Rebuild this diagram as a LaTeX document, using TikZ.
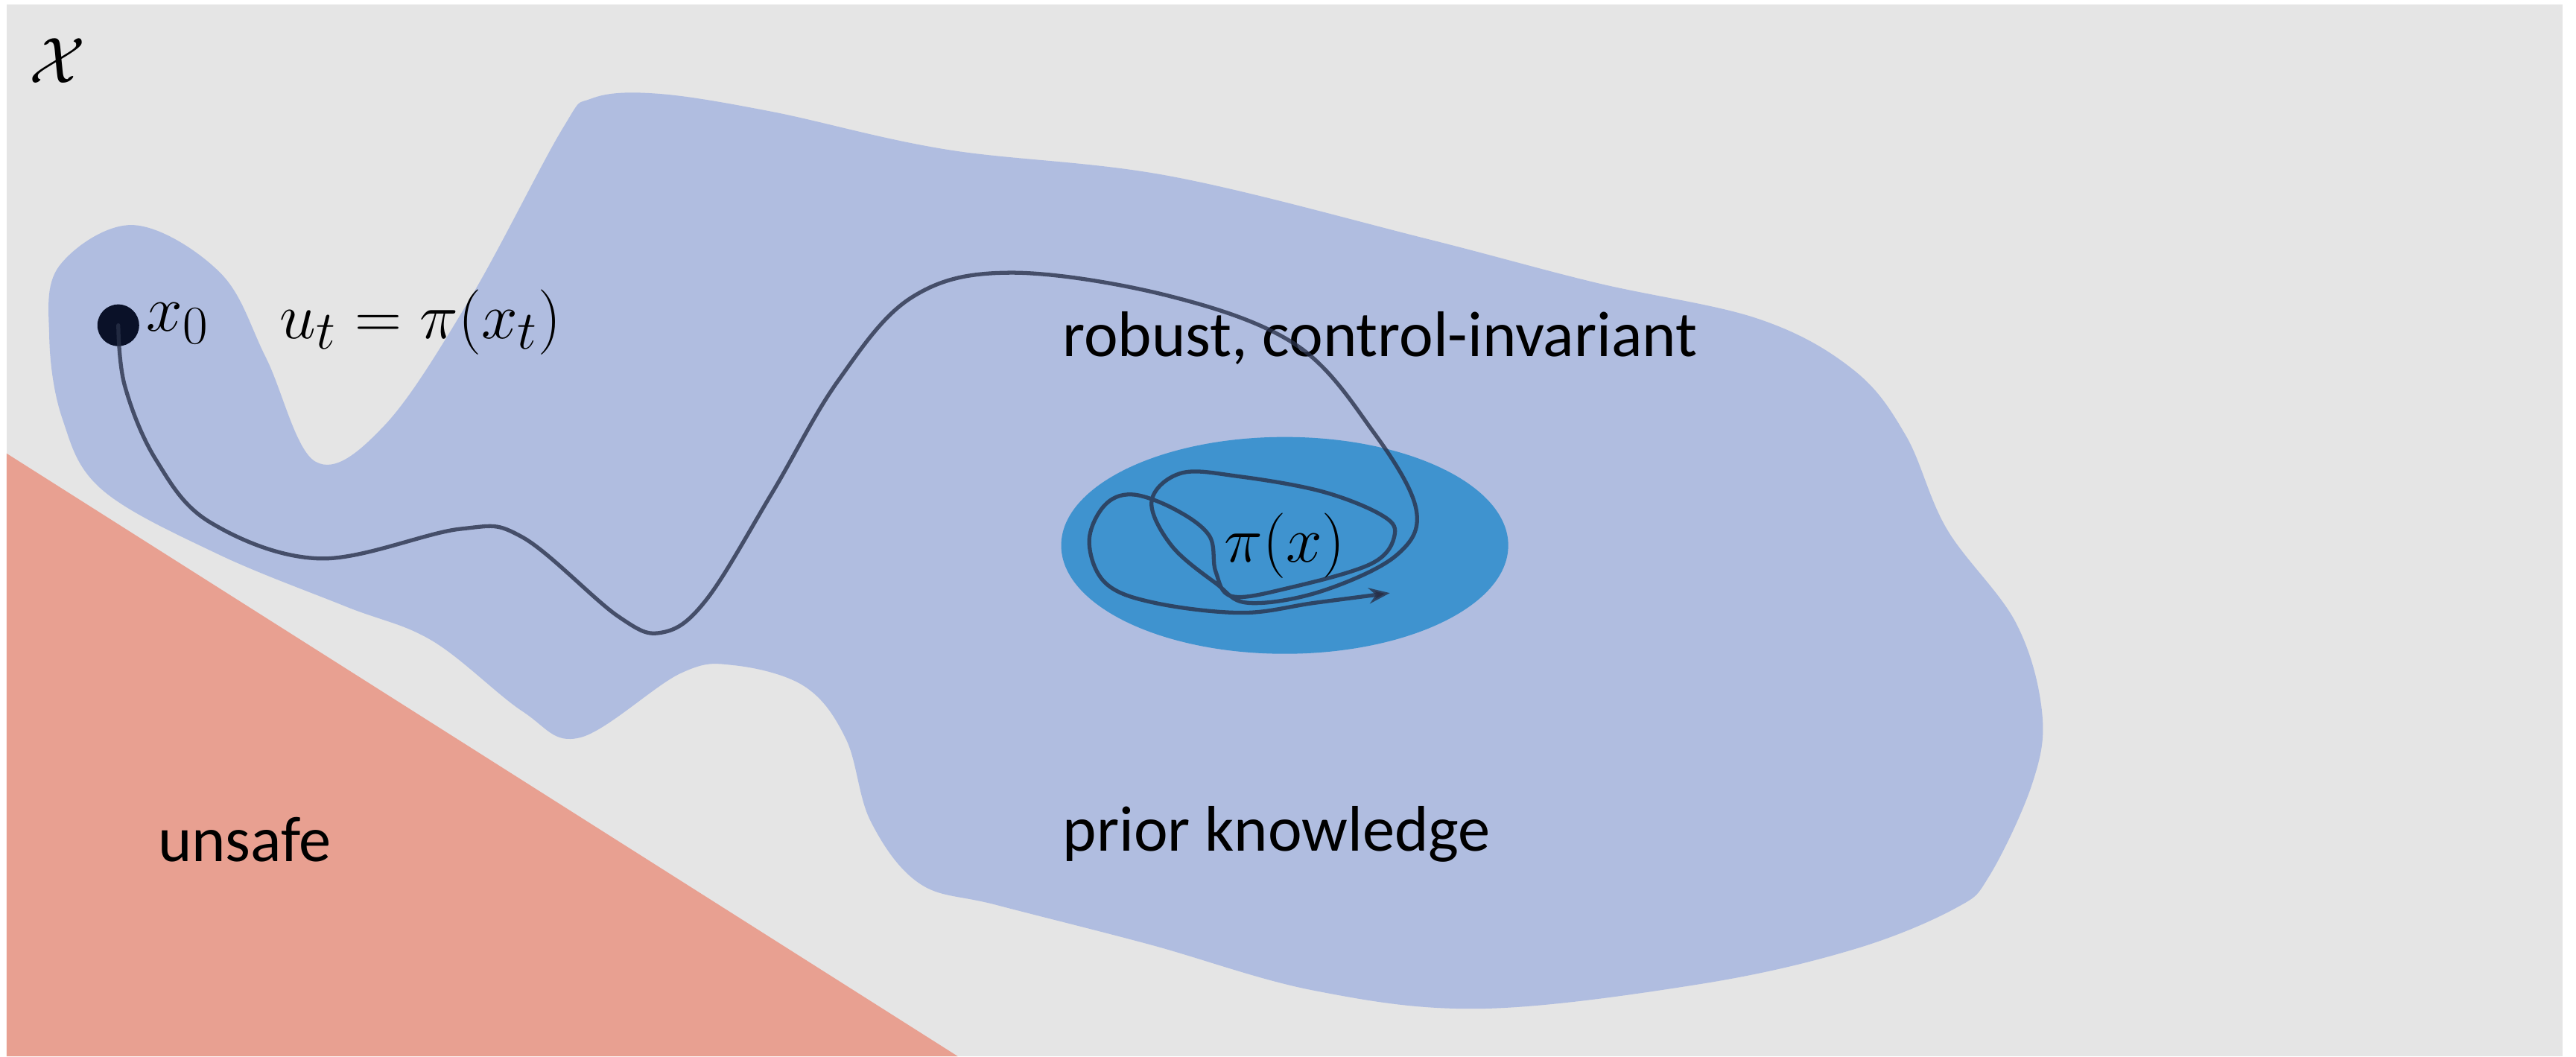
\documentclass[tikz,border=0pt]{standalone}
\usepackage{fontspec}
\setmainfont{Carlito}
\usetikzlibrary{arrows.meta,shapes.geometric}
\definecolor{bggrey}{HTML}{E5E5E5}
\definecolor{priorcol}{HTML}{B0BDE0}
\definecolor{safecol}{HTML}{3F93CF}
\definecolor{unsafecol}{HTML}{E8A091}
\definecolor{trajcol}{HTML}{283048}
\definecolor{dotcol}{HTML}{0A1128}
\tikzset{
  lbl/.style={inner sep=0pt, font=\fontsize{24.6}{28}\selectfont},
  mlbl/.style={inner sep=0pt, font=\fontsize{27.2}{31}\selectfont},
  traj/.style={draw=trajcol, draw opacity=0.78, line width=1.5pt, line cap=round, line join=round},
}
\begin{document}
\begin{tikzpicture}[x=0.022054cm,y=-0.022054cm]
\useasboundingbox (0,0) rectangle (1568,643);
\fill[bggrey] (4,2.5) rectangle (1560,643);
\fill[unsafecol] (4,276) -- (583,643) -- (4,643) -- cycle;
\fill[priorcol] plot[smooth cycle, tension=0.6] coordinates {
 (36,162) (30,205) (38,255) (62,298) (132,337) (210,369)
 (263,390) (318,433) (353,449) (414,410) (447,405) (490,418)
 (515,450) (530,500) (560,538) (607,551) (700,575) (800,603) (902,614)
 (1035,599) (1128,578) (1190,553) (1211,533) (1237,477) (1243,434)
 (1227,379) (1185,322) (1160,265) (1128,225) (1070,194) (971,172)
 (867,145) (711,107) (576,91) (470,68) (400,57) (360,60) (342,79)
 (286,182) (234,259) (192,281) (162,218) (134,166) (81,137)};
\node[ellipse, fill=safecol, minimum width=6.0cm, minimum height=2.91cm, inner sep=0pt, mlbl] (safe) at (782,332) {$\pi(x)$};
\node[lbl] (unsafe) at (149,511) {unsafe};
\node[lbl] (prior) at (777,508) {prior knowledge};
\node[lbl] (robust) at (840,206) {robust, control-invariant};
\node[mlbl] (space) at (35,37) {$\mathcal{X}$};
\node[circle, fill=dotcol, minimum size=0.56cm, inner sep=0pt] (x0dot) at (72,198) {};
\node[mlbl, anchor=west] (x0) at (89,197) {$x_0$};
\node[mlbl] (law) at (256,196) {$u_t = \pi(x_t)$};
\coordinate (tend) at (846,361);
\draw[traj, -{Stealth[length=8pt,width=6pt]}] plot[smooth, tension=0.6] coordinates {
 (x0dot.center) (76,235) (95,280) (128,318) (195,340) (280,322)
 (318,327) (376,375) (403,385) (430,365) (470,300) (510,232) (555,181)
 (615,166) (711,180) (789,210) (836,263) (862,310) (850,338) (804,360)
 (760,367) (740,355) (713,332) (701,305) (719,288) (754,290) (804,299)
 (840,313) (849,325) (835,343) (784,358) (750,363) (740,348) (736,326)
 (715,310) (689,301) (672,308) (663,330) (673,355) (703,367) (756,373)
 (800,367) (tend)};
\end{tikzpicture}
\end{document}
